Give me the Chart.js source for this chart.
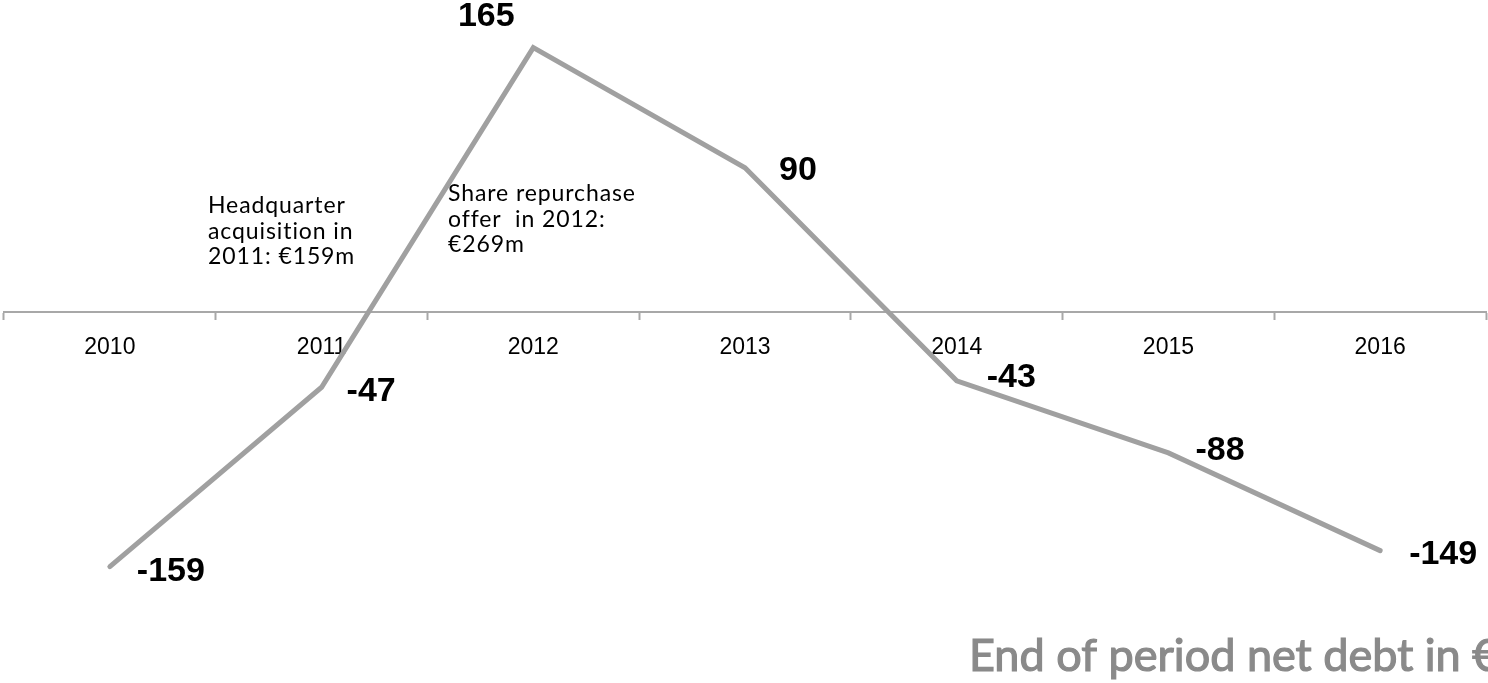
<!DOCTYPE html>
<html>
<head>
<meta charset="utf-8">
<script src="https://cdn.jsdelivr.net/npm/chart.js@4/dist/chart.umd.min.js"></script>
<style>
  html, body { margin: 0; padding: 0; background: #ffffff; }
  #wrap { position: relative; width: 1488px; height: 683px; overflow: hidden; }
</style>
</head>
<body>
<div id="wrap"><canvas id="c" width="1488" height="683"></canvas></div>
<script>
// ---- Data ----
const years = ['2010', '2011', '2012', '2013', '2014', '2015', '2016'];
const netDebt = [-159, -47, 165, 90, -43, -88, -149];
const valueLabels = ['-159', '-47', '165', '90', '-43', '-88', '-149'];
const noteHQ = ['Headquarter', 'acquisition in', '2011: €159m'];
const noteShare = ['Share repurchase', 'offer  in 2012:', '€269m'];
const chartTitle = 'End of period net debt in €m';

// ---- Plugins ----
const labelOffsets = [
  { dx: 27, dy: 5, align: 'left' },
  { dx: 25, dy: 4, align: 'left' },
  { dx: -47, dy: -31, align: 'center' },
  { dx: 34, dy: 3, align: 'left' },
  { dx: 30, dy: -3, align: 'left' },
  { dx: 27, dy: -2, align: 'left' },
  { dx: 29, dy: 4, align: 'left' }
];

const valueLabelPlugin = {
  id: 'valueLabels',
  afterDatasetsDraw(chart) {
    const ctx = chart.ctx;
    const meta = chart.getDatasetMeta(0);
    ctx.save();
    ctx.font = 'bold 34px "Liberation Sans", Arial, sans-serif';
    ctx.fillStyle = '#000000';
    ctx.textBaseline = 'middle';
    meta.data.forEach((pt, i) => {
      const o = labelOffsets[i];
      ctx.textAlign = o.align;
      ctx.fillText(valueLabels[i], pt.x + o.dx, pt.y + o.dy);
    });
    ctx.restore();
  }
};

const notesPlugin = {
  id: 'notes',
  afterDraw(chart) {
    const ctx = chart.ctx;
    ctx.save();
    ctx.font = '23px Lato, "Open Sans", sans-serif';
    if ('letterSpacing' in ctx) ctx.letterSpacing = '0.9px';
    ctx.fillStyle = '#000000';
    ctx.textAlign = 'left';
    ctx.textBaseline = 'alphabetic';
    const lh = 25.5;
    noteHQ.forEach((t, i) => ctx.fillText(t, 208, 213 + i * lh));
    noteShare.forEach((t, i) => ctx.fillText(t, 448, 201 + i * lh));
    if ('letterSpacing' in ctx) ctx.letterSpacing = '0px';
    ctx.font = '45px Lato, "Open Sans", sans-serif';
    ctx.fillStyle = '#8a8a8a';
    ctx.strokeStyle = '#8a8a8a';
    ctx.lineWidth = 1.2;
    ctx.fillText(chartTitle, 969, 671);
    ctx.strokeText(chartTitle, 969, 671);
    ctx.restore();
  }
};

// ---- Chart ----
new Chart(document.getElementById('c'), {
  type: 'line',
  data: {
    labels: years,
    datasets: [{
      data: netDebt,
      borderColor: '#a0a0a0',
      borderWidth: 5,
      borderCapStyle: 'round',
      borderJoinStyle: 'miter',
      pointRadius: 0,
      pointHoverRadius: 0,
      tension: 0,
      fill: false,
      clip: false
    }]
  },
  options: {
    responsive: false,
    animation: false,
    events: [],
    layout: { padding: { left: 4, right: 2, top: 7.6, bottom: 82.7 } },
    plugins: {
      legend: { display: false },
      tooltip: { enabled: false },
      title: { display: false }
    },
    scales: {
      y: {
        display: false,
        min: -180,
        max: 190
      },
      x: {
        position: { y: 0 },
        offset: true,
        border: { display: true, color: '#a8a8a8', width: 2 },
        grid: {
          offset: true,
          drawOnChartArea: false,
          drawTicks: true,
          tickLength: 7,
          tickWidth: 2,
          color: '#a8a8a8'
        },
        ticks: {
          color: '#000000',
          font: { family: '"Liberation Sans", Arial, sans-serif', size: 23 },
          padding: 15,
          maxRotation: 0,
          autoSkip: false
        }
      }
    }
  },
  plugins: [valueLabelPlugin, notesPlugin]
});
</script>
</body>
</html>
